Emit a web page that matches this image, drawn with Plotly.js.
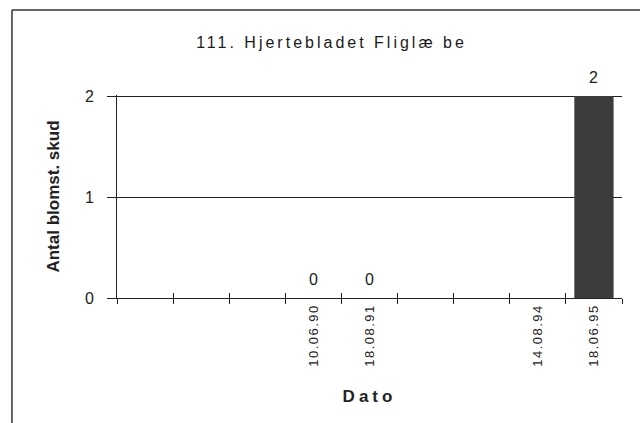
<!DOCTYPE html>
<html>
<head>
<meta charset="utf-8">
<script src="https://cdn.plot.ly/plotly-3.0.1.min.js"></script>
<style>
html,body{margin:0;padding:0;background:#fff;}
#chart{width:640px;height:423px;}
.gtitle{letter-spacing:3px;}
.xtitle{letter-spacing:4px;}
.xtick text{letter-spacing:1.5px;}
</style>
</head>
<body>
<div id="chart"></div>
<script>
const chartTitle = "111. Hjertebladet Fliglæ be";
const xTitle = "Dato";
const yTitle = "Antal blomst. skud";
const categories = ["", "", "", "10.06.90", "18.08.91", "", "", "14.08.94", "18.06.95"];
const values = [null, null, null, 0, 0, null, null, null, 2];
const yTicks = [0, 1, 2];

const idx = categories.map((c, i) => i);
const FONT = "Liberation Sans, Arial, sans-serif";

const trace = {
  type: "bar",
  x: idx,
  y: values,
  width: 0.7,
  marker: {color: "#3a3d3c", line: {width: 0}},
  hoverinfo: "skip"
};

// value labels built from the data arrays
const valueLabels = [];
values.forEach((v, i) => {
  if (v === null) return;
  valueLabels.push({
    x: idx[i], y: v, xref: "x", yref: "y", text: String(v), showarrow: false,
    yanchor: "middle", yshift: 19,
    font: {family: FONT, size: 16, color: "#222"}
  });
});

const bounds = [];
for (let i = 0; i <= categories.length; i++) bounds.push(i - 0.5);

const layout = {
  width: 640, height: 423,
  margin: {l: 117, r: 18, t: 95, b: 125},
  paper_bgcolor: "#fff", plot_bgcolor: "#fff",
  showlegend: false,
  title: {text: chartTitle, x: 0.518, xref: "container", xanchor: "center", y: 0.9, yref: "container", yanchor: "middle",
    font: {family: FONT, size: 16, color: "#1a1a1a"}},
  xaxis: {
    type: "linear", range: [-0.5, categories.length - 0.5], automargin: false,
    tickvals: idx, ticktext: categories, tickangle: -90, ticks: "",
    showgrid: false, zeroline: false, showline: true, linecolor: "#222", linewidth: 1,
    tickfont: {family: FONT, size: 13, color: "#222"},
    title: {text: xTitle, standoff: 24, font: {family: FONT, size: 17, color: "#222", weight: "bold"}},
    fixedrange: true
  },
  xaxis2: {
    overlaying: "x", matches: "x", anchor: "y",
    tickvals: bounds, ticktext: bounds.map(() => ""), ticks: "outside", ticklen: 5,
    tickcolor: "#222", showgrid: false, zeroline: false, showline: false, side: "bottom"
  },
  xaxis3: {
    overlaying: "x", matches: "x", anchor: "y",
    tickvals: bounds, ticktext: bounds.map(() => ""), ticks: "inside", ticklen: 5,
    tickcolor: "#222", showgrid: false, zeroline: false, showline: false, side: "bottom"
  },
  yaxis: {
    range: [0, 2.01], tickvals: yTicks, ticks: "outside", ticklen: 9, tickcolor: "#222",
    showgrid: true, gridcolor: "#222", gridwidth: 1, zeroline: false, automargin: false,
    showline: true, linecolor: "#222", linewidth: 1, ticklabelstandoff: 10,
    tickfont: {family: FONT, size: 16, color: "#222"},
    title: {text: yTitle, standoff: 20, font: {family: FONT, size: 17, color: "#222", weight: "bold"}},
    fixedrange: true
  },
  annotations: valueLabels,
  shapes: [
    {type: "line", xref: "paper", yref: "paper", x0: -0.208, x1: 1.1, y0: 1.419, y1: 1.419, line: {color: "#333", width: 1.5}},
    {type: "line", xref: "paper", yref: "paper", x0: -0.208, x1: -0.208, y0: 1.419, y1: -0.62, line: {color: "#333", width: 1.5}}
  ]
};

const dummy2 = {type: "scatter", x: [0], y: [null], xaxis: "x2", yaxis: "y", hoverinfo: "skip", showlegend: false};
const dummy3 = {type: "scatter", x: [0], y: [null], xaxis: "x3", yaxis: "y", hoverinfo: "skip", showlegend: false};

Plotly.newPlot("chart", [trace, dummy2, dummy3], layout, {staticPlot: true});
</script>
</body>
</html>
